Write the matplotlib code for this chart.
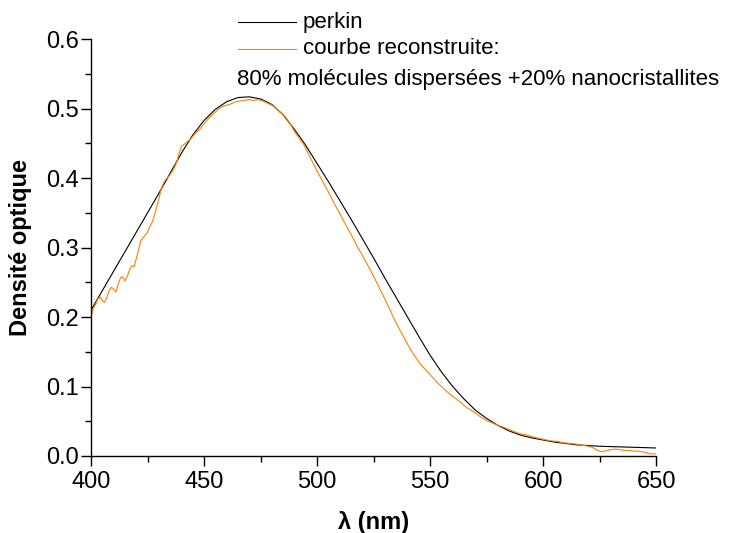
import numpy as np
import matplotlib
matplotlib.use("Agg")
import matplotlib.pyplot as plt
from matplotlib.lines import Line2D
from matplotlib.ticker import MultipleLocator

plt.rcParams["font.family"] = ["Liberation Sans", "DejaVu Sans"]

# courbe "perkin" (lisse)
perkin_x = [400, 405, 410, 415, 420, 425, 430, 435, 440, 445, 450, 455, 460, 465,
            470, 475, 480, 485, 490, 495, 500, 505, 510, 515, 520, 525, 530, 535,
            540, 545, 550, 555, 560, 565, 570, 575, 580, 585, 590, 595, 600, 605,
            610, 615, 620, 625, 630, 635, 640, 645, 650]
perkin_y = [0.210, 0.238, 0.266, 0.294, 0.322, 0.350, 0.378, 0.407, 0.436, 0.462,
            0.483, 0.499, 0.510, 0.516, 0.517, 0.514, 0.506, 0.491, 0.470, 0.447,
            0.421, 0.395, 0.368, 0.341, 0.313, 0.285, 0.256, 0.228, 0.200, 0.172,
            0.145, 0.121, 0.100, 0.082, 0.066, 0.054, 0.044, 0.036, 0.030, 0.026,
            0.023, 0.020, 0.018, 0.016, 0.015, 0.014, 0.0135, 0.013, 0.0125, 0.012,
            0.0115]

# courbe reconstruite (bruitée)
recon_x = [400, 401, 402, 403, 404, 405, 406, 407, 408, 409, 410, 411, 412, 413,
           414, 415, 416, 417, 418, 419, 420, 421, 422, 423, 424, 425, 426, 427,
           428, 429, 430, 431, 432, 433, 434, 435, 436, 437, 438, 439, 440, 441,
           442, 444, 446, 448, 450, 452, 454, 456, 458, 460, 462, 464, 466, 468,
           470, 472, 474, 476, 478, 480, 482, 484, 486, 488, 490, 492, 494, 496,
           498, 500, 502, 504, 506, 508, 510, 512, 514, 516, 518, 520, 522, 524,
           526, 528, 530, 532, 534, 536, 538, 540, 542, 544, 546, 548, 550, 552,
           554, 556, 558, 560, 562, 564, 566, 568, 570, 572, 575, 578, 580, 582,
           585, 588, 590, 593, 596, 600, 603, 606, 609, 612, 615, 618, 620, 622,
           624, 626, 628, 630, 632, 634, 636, 638, 640, 642, 644, 646, 648, 650]
recon_y = [0.200, 0.212, 0.218, 0.226, 0.229, 0.224, 0.221, 0.228, 0.238, 0.243,
           0.240, 0.236, 0.247, 0.256, 0.258, 0.252, 0.258, 0.268, 0.274, 0.272,
           0.284, 0.296, 0.310, 0.314, 0.318, 0.322, 0.330, 0.336, 0.346, 0.358,
           0.370, 0.384, 0.392, 0.398, 0.401, 0.405, 0.410, 0.416, 0.424, 0.436,
           0.446, 0.448, 0.451, 0.456, 0.464, 0.470, 0.478, 0.486, 0.492, 0.498,
           0.503, 0.505, 0.507, 0.510, 0.511, 0.512, 0.513, 0.512, 0.513, 0.511,
           0.508, 0.505, 0.500, 0.494, 0.488, 0.479, 0.467, 0.458, 0.449, 0.436,
           0.423, 0.410, 0.398, 0.386, 0.374, 0.361, 0.349, 0.337, 0.325, 0.313,
           0.300, 0.289, 0.277, 0.265, 0.252, 0.239, 0.226, 0.212, 0.198, 0.185,
           0.173, 0.161, 0.150, 0.140, 0.131, 0.124, 0.117, 0.110, 0.103, 0.097,
           0.091, 0.086, 0.081, 0.076, 0.070, 0.066, 0.062, 0.057, 0.051, 0.047,
           0.044, 0.042, 0.038, 0.034, 0.032, 0.030, 0.027, 0.024, 0.022, 0.021,
           0.019, 0.018, 0.017, 0.015, 0.014, 0.012, 0.008, 0.006, 0.008, 0.009,
           0.010, 0.009, 0.008, 0.008, 0.007, 0.007, 0.006, 0.004, 0.003, 0.003]

ORANGE = "#ff8000"

fig = plt.figure(figsize=(7.34, 5.33), dpi=100)
ax = fig.add_axes([0.124, 0.1445, 0.770, 0.782])

ax.plot(perkin_x, perkin_y, color="black", lw=0.8)
ax.plot(recon_x, recon_y, color=ORANGE, lw=0.8)

ax.set_xlim(400, 650)
ax.set_ylim(0, 0.6)
ax.xaxis.set_major_locator(MultipleLocator(50))
ax.xaxis.set_minor_locator(MultipleLocator(25))
ax.yaxis.set_major_locator(MultipleLocator(0.1))
ax.yaxis.set_minor_locator(MultipleLocator(0.05))
ax.yaxis.set_major_formatter(plt.FormatStrFormatter("%.1f"))

for s in ["top", "right"]:
    ax.spines[s].set_visible(False)
for s in ["left", "bottom"]:
    ax.spines[s].set_linewidth(1.0)
ax.tick_params(which="major", direction="out", length=7, width=1.0, labelsize=17)
ax.tick_params(axis="y", which="major", pad=2)
ax.tick_params(which="minor", direction="out", length=4, width=1.0)

ax.set_xlabel("λ (nm)", fontsize=17, fontweight="bold", labelpad=13)
ax.set_ylabel("Densité optique", fontsize=17, fontweight="bold", labelpad=10)

# légende faite à la main
W, H = 734, 533
def fx(px):
    return px / W
def fy(py):
    return 1 - py / H

fig.add_artist(Line2D([fx(238), fx(296)], [fy(22), fy(22)], color="black", lw=0.8))
fig.add_artist(Line2D([fx(238), fx(296)], [fy(49), fy(49)], color=ORANGE, lw=0.8))
fig.text(fx(303), fy(22), "perkin", fontsize=16, va="center", ha="left")
fig.text(fx(303), fy(49), "courbe reconstruite:", fontsize=16, va="center", ha="left")
fig.text(fx(237), fy(79), "80% molécules dispersées +20% nanocristallites",
         fontsize=16, va="center", ha="left")

fig.savefig("out.png", dpi=100)
